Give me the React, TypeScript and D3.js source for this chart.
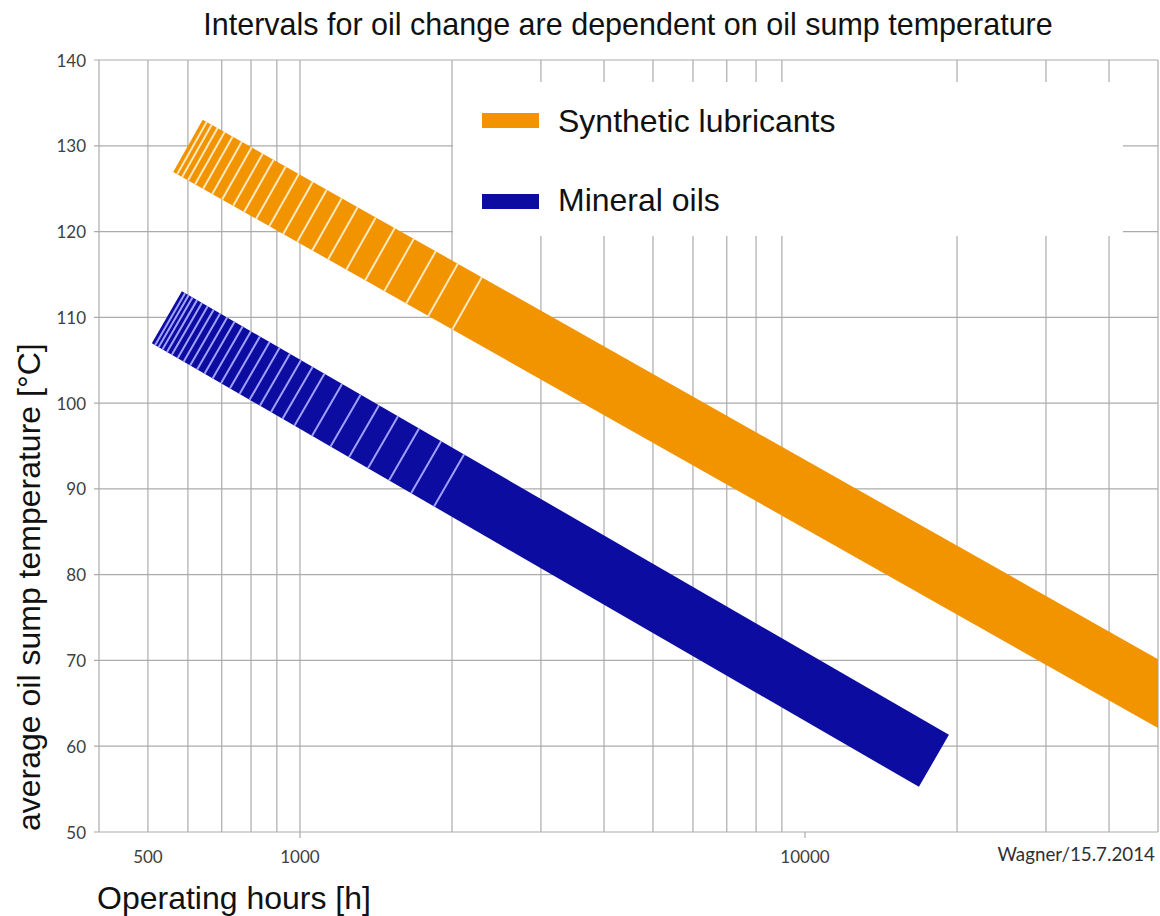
import React from 'react';
import * as d3 from 'd3';

const TITLE = 'Intervals for oil change are dependent on oil sump temperature';
const X_LABEL = 'Operating hours [h]';
const Y_LABEL = 'average oil sump temperature [°C]';
const CREDIT = 'Wagner/15.7.2014';

const X_DOMAIN = [400, 50000];
const Y_DOMAIN = [50, 140];
const Y_TICKS = [50, 60, 70, 80, 90, 100, 110, 120, 130, 140];
const X_GRID = [400, 500, 600, 700, 800, 900, 1000, 2000, 3000, 4000, 5000, 6000, 7000, 8000, 9000, 20000, 30000, 40000, 50000];
const X_TICK_LABELS = [500, 1000, 10000];
const X_TICK_MARKS = [1000, 10000];

const SERIES_NAMES = ['Synthetic lubricants', 'Mineral oils'];
const SERIES_COLORS = ['#f29400', '#0c0ca0'];
const STRIPE_COLORS = ['#fde8c0', '#a0a0ff'];

const SYNTHETIC_HOURS = [600, 60000];
const SYNTHETIC_TEMPS = [130, 63.5];
const MINERAL_HOURS = [545, 18000];
const MINERAL_TEMPS = [110, 58.3];

const SYNTHETIC_STRIPE_HOURS = [611, 625, 642, 663, 688, 717, 750, 789, 829, 876, 930, 991, 1056, 1131, 1216, 1321, 1440, 1571, 1736, 1920, 2142];
const MINERAL_STRIPE_HOURS = [553, 562, 572, 584, 597, 613, 630, 649, 670, 693, 719, 747, 778, 813, 851, 892, 938, 989, 1044, 1131, 1231, 1339, 1460, 1607, 1777, 1973];

const W = 1160;
const H = 916;
const PLOT = { left: 99, right: 1158, top: 60, bottom: 832 };
const BAND_WIDTH = 60;

export default function App() {
  const x = d3.scaleLog().domain(X_DOMAIN).range([PLOT.left, PLOT.right]);
  const y = d3.scaleLinear().domain(Y_DOMAIN).range([PLOT.bottom, PLOT.top]);

  const bands = [
    { hours: SYNTHETIC_HOURS, temps: SYNTHETIC_TEMPS, stripes: SYNTHETIC_STRIPE_HOURS },
    { hours: MINERAL_HOURS, temps: MINERAL_TEMPS, stripes: MINERAL_STRIPE_HOURS },
  ];

  const line = d3.line<[number, number]>().x((d) => x(d[0])).y((d) => y(d[1]));

  const gridColor = '#ababab';
  const tickFont = 'Lato, "Open Sans", sans-serif';
  const mainFont = '"Liberation Sans", Arial, sans-serif';

  return (
    <svg width={W} height={H} style={{ position: 'absolute', left: 0, top: 0, background: '#fff' }}>
      <defs>
        <clipPath id="plotClip">
          <rect x={PLOT.left} y={PLOT.top} width={PLOT.right - PLOT.left} height={PLOT.bottom - PLOT.top} />
        </clipPath>
      </defs>
      <rect x={0} y={0} width={W} height={H} fill="#fff" />
      <text x={628} y={35} textAnchor="middle" fontFamily={mainFont} fontSize={30.5} fill="#111">{TITLE}</text>

      {/* grid */}
      {Y_TICKS.map((t) => (
        <line key={'h' + t} x1={PLOT.left - 5} x2={PLOT.right} y1={y(t)} y2={y(t)} stroke={gridColor} strokeWidth={1.2} />
      ))}
      {X_GRID.map((t) => (
        <line key={'v' + t} x1={x(t)} x2={x(t)} y1={PLOT.top} y2={PLOT.bottom} stroke={gridColor} strokeWidth={1.2} />
      ))}
      {X_TICK_MARKS.map((t) => (
        <line key={'tm' + t} x1={x(t)} x2={x(t)} y1={PLOT.bottom} y2={PLOT.bottom + 6} stroke={gridColor} strokeWidth={1.2} />
      ))}

      {/* legend box */}
      <rect x={453} y={82} width={670} height={154} fill="#fff" />

      {/* tick labels */}
      {Y_TICKS.map((t) => (
        <text key={'yl' + t} x={86} y={y(t) + 6.5} textAnchor="end" fontFamily={tickFont} fontSize={17} fill="#404040">{t}</text>
      ))}
      {X_TICK_LABELS.map((t) => (
        <text key={'xl' + t} x={x(t)} y={863} textAnchor="middle" fontFamily={tickFont} fontSize={17} fill="#404040">{t}</text>
      ))}
      <text x={1155} y={861} textAnchor="end" fontFamily={tickFont} fontSize={18.8} fill="#303030">{CREDIT}</text>

      {/* bands */}
      <g clipPath="url(#plotClip)">
        {bands.map((b, i) => {
          const pts: [number, number][] = b.hours.map((h, j) => [h, b.temps[j]]);
          const p0 = [x(pts[0][0]), y(pts[0][1])];
          const p1 = [x(pts[1][0]), y(pts[1][1])];
          const dx = p1[0] - p0[0];
          const dy = p1[1] - p0[1];
          const len = Math.hypot(dx, dy);
          const nx = -dy / len;
          const ny = dx / len;
          return (
            <g key={'band' + i}>
              <path d={line(pts) || ''} stroke={SERIES_COLORS[i]} strokeWidth={BAND_WIDTH} fill="none" strokeLinecap="butt" />
              {b.stripes.map((h, k) => {
                const px = x(h);
                const t = (px - p0[0]) / dx;
                const py = p0[1] + t * dy;
                const hw = BAND_WIDTH / 2;
                return (
                  <line key={k} x1={px - nx * hw} y1={py - ny * hw} x2={px + nx * hw} y2={py + ny * hw}
                    stroke={STRIPE_COLORS[i]} strokeWidth={2} />
                );
              })}
            </g>
          );
        })}
      </g>

      {/* legend */}
      {SERIES_NAMES.map((n, i) => (
        <g key={'lg' + i}>
          <rect x={482} y={113 + i * 81} width={57} height={15} fill={SERIES_COLORS[i]} />
          <text x={558} y={132 + i * 79} fontFamily={mainFont} fontSize={32} fill="#111">{n}</text>
        </g>
      ))}

      {/* axis labels */}
      <text x={97} y={909} fontFamily={mainFont} fontSize={32} fill="#111">{X_LABEL}</text>
      <text transform={`translate(40,831) rotate(-90)`} fontFamily={mainFont} fontSize={32} fill="#111">{Y_LABEL}</text>
    </svg>
  );
}
